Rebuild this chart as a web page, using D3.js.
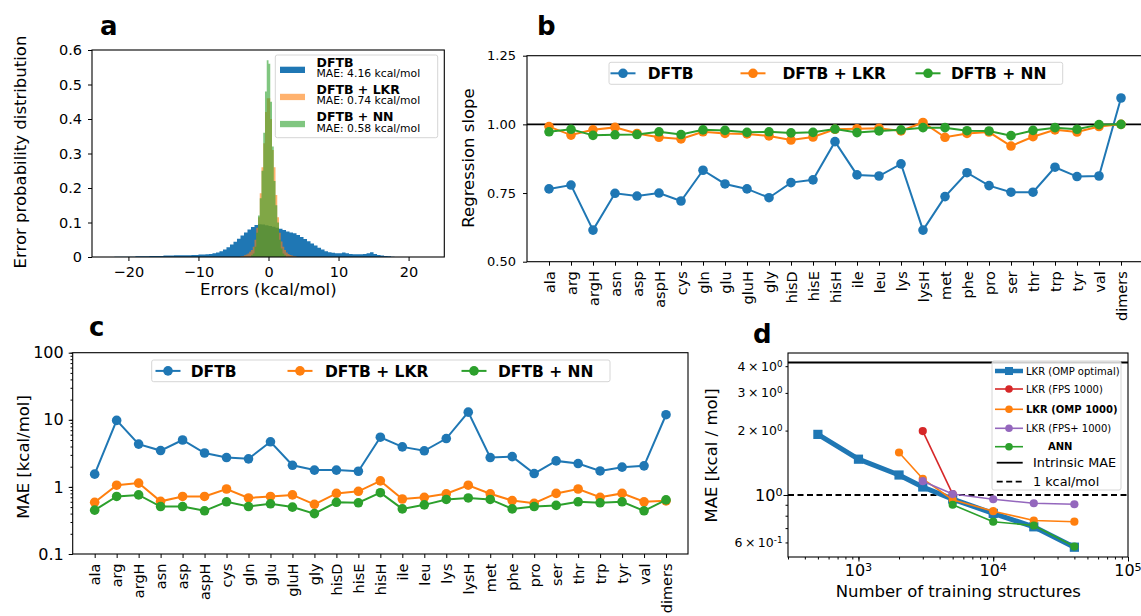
<!DOCTYPE html>
<meta charset="utf-8">
<style type="text/css">
body {
  margin: 0;
  background: #fff;
}

svg,
.axis {
  font-family: "DejaVu Sans", sans-serif;
}

.axis path,
.axis line {
  stroke: #000;
  stroke-width: 1px;
}

.axis text {
  fill: #000;
}

.letter {
  font-weight: bold;
  font-size: 26px;
}

.label {
  font-size: 16.5px;
}
</style>
<body></body>

<script src="https://d3js.org/d3.v7.min.js"></script>
<script>
// ---- panel a : error histograms (bin start, bin width, heights)
var dftbStart = -22, dftbWidth = 0.5;
var dftbHist = [
  0.001,0.001,0.001,0.001,0.001,0.001,0.002,0.002,0.002,0.002,0.003,0.003,0.003,0.003,
  0.004,0.004,0.004,0.005,0.005,0.005,0.005,0.005,0.006,0.006,
  0.007,0.007,0.008,0.009, 0.011,0.013,0.017,0.022, 0.028,0.036,0.044,0.053,
  0.062,0.071,0.080,0.087, 0.093,0.095,0.094,0.092, 0.090,0.088,0.085,0.082,
  0.078,0.074,0.071,0.069, 0.064,0.058,0.052,0.046, 0.039,0.033,0.027,0.022,
  0.017,0.014,0.012,0.011, 0.011,0.013,0.011,0.009, 0.008,0.008,0.008,0.009,
  0.011,0.014,0.009,0.006, 0.004,0.003,0.002,0.001
];
var lkrStart = -4, lkrWidth = 0.25;
var lkrHist = [
  0.002,0.003,0.005,0.007,0.010,0.015,0.020,0.030,0.050,0.085,0.115,0.185,0.260,0.330,0.420,0.460,
  0.460,0.400,0.310,0.260,0.180,0.115,0.070,0.045,0.030,0.020,0.013,0.009,0.006,0.004,0.003,0.002
];
var nnStart = -2.5, nnWidth = 0.25;
var nnHist = [
  0.005,0.010,0.030,0.070,0.120,0.170,0.250,0.360,0.480,0.570,
  0.560,0.450,0.320,0.220,0.150,0.100,0.050,0.025,0.010,0.005
];
var histNames = ["DFTB", "DFTB + LKR", "DFTB + NN"];
var histMAE = ["MAE: 4.16 kcal/mol", "MAE: 0.74 kcal/mol", "MAE: 0.58 kcal/mol"];
var errTicks = [-20, -10, 0, 10, 20];
var probTicks = [0, 0.1, 0.2, 0.3, 0.4, 0.5, 0.6];

// ---- panels b and c : per residue
var residues = ["ala","arg","argH","asn","asp","aspH","cys","gln","glu","gluH","gly","hisD","hisE",
  "hisH","ile","leu","lys","lysH","met","phe","pro","ser","thr","trp","tyr","val","dimers"];
var slopeDFTB = [0.765,0.779,0.615,0.749,0.739,0.750,0.721,0.833,0.783,0.765,0.733,0.788,0.798,
  0.937,0.816,0.812,0.856,0.615,0.737,0.824,0.777,0.753,0.753,0.844,0.810,0.812,1.096];
var slopeLKR = [0.992,0.961,0.980,0.989,0.967,0.953,0.947,0.973,0.967,0.965,0.958,0.943,0.954,
  0.982,0.984,0.986,0.976,1.007,0.953,0.967,0.972,0.921,0.955,0.980,0.972,0.992,1.000];
var slopeNN = [0.973,0.982,0.960,0.962,0.963,0.973,0.963,0.980,0.978,0.971,0.973,0.969,0.971,
  0.983,0.970,0.976,0.980,0.988,0.988,0.977,0.976,0.959,0.978,0.988,0.982,0.999,1.000];
var slopeTicks = [0.50, 0.75, 1.00, 1.25];

var maeDFTB = [1.55,9.8,4.34,3.48,5.0,3.2,2.74,2.62,4.7,2.1,1.78,1.78,1.71,
  5.5,3.95,3.45,5.26,13.0,2.74,2.83,1.58,2.44,2.23,1.73,1.97,2.06,11.9];
var maeLKR = [0.59,1.06,1.14,0.61,0.72,0.72,0.93,0.685,0.72,0.76,0.55,0.80,0.86,
  1.23,0.66,0.70,0.79,1.06,0.79,0.625,0.57,0.80,0.93,0.70,0.80,0.60,0.62];
var maeNN = [0.45,0.72,0.76,0.51,0.51,0.44,0.60,0.51,0.56,0.50,0.40,0.59,0.58,
  0.82,0.47,0.54,0.65,0.685,0.65,0.47,0.51,0.53,0.60,0.58,0.60,0.44,0.64];
var maeTicks = [0.1, 1, 10, 100];

// ---- panel d : learning curves
var ompOptimalN = [500,1000,2000,3000,5000,10000,20000,40000];
var ompOptimal  = [1.92,1.47,1.24,1.09,0.957,0.82,0.71,0.57];
var fpsN = [3000,5000];
var fps  = [1.99,1.01];
var omp1000N = [2000,3000,5000,10000,20000,40000];
var omp1000  = [1.58,1.19,0.95,0.84,0.76,0.75];
var fpsPlusN = [3000,5000,10000,20000,40000];
var fpsPlus  = [1.16,1.01,0.955,0.915,0.905];
var annN = [5000,10000,20000,40000];
var ann  = [0.90,0.75,0.72,0.574];
var intrinsicMAE = 4.16;
var oneKcal = 1;
var curveNames = ["LKR (OMP optimal)", "LKR (FPS 1000)", "LKR (OMP 1000)", "LKR (FPS+ 1000)", "ANN",
  "Intrinsic MAE", "1 kcal/mol"];
var nTicks = [1e3, 1e4, 1e5];
var maeDTicks = [4, 3, 2, 1, 0.6];

var blue = "#1f77b4", orange = "#ff7f0e", green = "#2ca02c", red = "#d62728", purple = "#9467bd";

var svg = d3.select("body")
  .append("svg")
    .attr("width", 1141)
    .attr("height", 616);

function frame(L, T, R, B) {
  svg.append("rect")
    .attr("x", L).attr("y", T)
    .attr("width", R - L).attr("height", B - T)
    .attr("fill", "none")
    .attr("stroke", "#000")
    .attr("stroke-width", 1.1);
}

function letter(t, x, y) {
  svg.append("text").attr("class", "letter").attr("x", x).attr("y", y).text(t);
}

function ylabel(t, x, y) {
  svg.append("text").attr("class", "label")
    .attr("transform", "translate(" + x + "," + y + ") rotate(-90)")
    .attr("text-anchor", "middle")
    .text(t);
}

function catAxis(x, B) {
  svg.append("g")
    .attr("class", "axis")
    .attr("transform", "translate(0," + B + ")")
    .style("font-size", "14.5px")
    .call(d3.axisBottom(x).tickSize(4).tickSizeOuter(0))
    .call(function(g) { g.select(".domain").remove(); })
    .selectAll("text")
      .attr("transform", "rotate(-90)")
      .attr("text-anchor", "end")
      .attr("x", -9.5)
      .attr("y", 0)
      .attr("dy", "0.35em");
}

function series(x, y, vals, color, r) {
  var pts = residues.map(function(d, i) { return [x(d), y(vals[i])]; });
  svg.append("path")
    .attr("d", d3.line()(pts))
    .attr("fill", "none")
    .attr("stroke", color)
    .attr("stroke-width", 2);
  svg.append("g").selectAll("circle")
    .data(pts)
    .enter().append("circle")
      .attr("cx", function(d) { return d[0]; })
      .attr("cy", function(d) { return d[1]; })
      .attr("r", r)
      .attr("fill", color);
}

function lineLegend(items, box, y) {
  svg.append("rect")
    .attr("x", box[0]).attr("y", box[1])
    .attr("width", box[2] - box[0]).attr("height", box[3] - box[1])
    .attr("rx", 2)
    .attr("fill", "#fff").attr("fill-opacity", 0.8)
    .attr("stroke", "#d6d6d6");
  items.forEach(function(it) {
    svg.append("line")
      .attr("x1", it.m - 12.5).attr("x2", it.m + 12.5)
      .attr("y1", y).attr("y2", y)
      .attr("stroke", it.c).attr("stroke-width", 2);
    svg.append("circle").attr("cx", it.m).attr("cy", y).attr("r", 4.8).attr("fill", it.c);
    svg.append("text")
      .attr("x", it.t).attr("y", y + 5.6)
      .style("font-weight", "bold").style("font-size", "15.5px")
      .text(it.name);
  });
}

// =================== panel a ===================
(function() {
  var L = 92, R = 444.3, T = 50, B = 257;
  var x = d3.scaleLinear().domain([-25.2, 25.1]).range([L, R]);
  var y = d3.scaleLinear().domain([0, 0.6]).range([B, T]);

  var area = d3.area()
    .curve(d3.curveStepAfter)
    .x(function(d) { return x(d[0]); })
    .y0(B)
    .y1(function(d) { return y(d[1]); });

  function hist(start, width, heights, color, alpha) {
    var pts = heights.map(function(h, i) { return [start + i * width, h]; });
    pts.push([start + heights.length * width, heights[heights.length - 1]]);
    svg.append("path")
      .attr("d", area(pts))
      .attr("fill", color)
      .attr("fill-opacity", alpha);
  }
  hist(dftbStart, dftbWidth, dftbHist, blue, 1);
  hist(lkrStart, lkrWidth, lkrHist, orange, 0.6);
  hist(nnStart, nnWidth, nnHist, green, 0.6);

  svg.append("g")
    .attr("class", "axis")
    .attr("transform", "translate(0," + B + ")")
    .style("font-size", "14.5px")
    .call(d3.axisBottom(x).tickValues(errTicks).tickSize(4).tickPadding(5.5).tickSizeOuter(0))
    .call(function(g) { g.select(".domain").remove(); });

  svg.append("g")
    .attr("class", "axis")
    .attr("transform", "translate(" + L + ",0)")
    .style("font-size", "14.5px")
    .call(d3.axisLeft(y).tickValues(probTicks).tickSize(4).tickPadding(6)
      .tickFormat(function(d) { return d === 0 ? "0" : d3.format(".1f")(d); }).tickSizeOuter(0))
    .call(function(g) { g.select(".domain").remove(); });

  frame(L, T, R, B);

  // legend
  svg.append("rect")
    .attr("x", 275.3).attr("y", 55)
    .attr("width", 162.4).attr("height", 82.7)
    .attr("rx", 2)
    .attr("fill", "#fff").attr("fill-opacity", 0.8)
    .attr("stroke", "#d6d6d6");
  var cols = [[blue, 1], [orange, 0.6], [green, 0.6]];
  histNames.forEach(function(n, i) {
    var yb = 66.5 + i * 27.1;
    svg.append("rect")
      .attr("x", 280).attr("y", yb + 0.2)
      .attr("width", 25).attr("height", 6.3)
      .attr("fill", cols[i][0]).attr("fill-opacity", cols[i][1]);
    svg.append("text")
      .attr("x", 316.5).attr("y", yb)
      .style("font-weight", "bold").style("font-size", "12.5px")
      .text(n);
    svg.append("text")
      .attr("x", 316.5).attr("y", yb + 10.8)
      .style("font-size", "10.8px")
      .text(histMAE[i]);
  });

  ylabel("Error probability distribution", 25.5, 152);
  svg.append("text").attr("class", "label")
    .attr("x", 268.3).attr("y", 294.5)
    .attr("text-anchor", "middle")
    .text("Errors (kcal/mol)");
  letter("a", 100, 35);
})();

// =================== panel b ===================
(function() {
  var L = 527, R = 1143, T = 55.7, B = 261.7;
  var x = d3.scalePoint().domain(residues).range([L, R]).padding(1);
  var y = d3.scaleLinear().domain([0.5, 1.25]).range([B, T]);

  svg.append("line")
    .attr("x1", L).attr("x2", R)
    .attr("y1", y(1)).attr("y2", y(1))
    .attr("stroke", "#000").attr("stroke-width", 1.6);

  series(x, y, slopeDFTB, blue, 4.8);
  series(x, y, slopeLKR, orange, 4.8);
  series(x, y, slopeNN, green, 4.8);

  catAxis(x, B);
  svg.append("g")
    .attr("class", "axis")
    .attr("transform", "translate(" + L + ",0)")
    .style("font-size", "13px")
    .call(d3.axisLeft(y).tickValues(slopeTicks).tickSize(4).tickPadding(7)
      .tickFormat(d3.format(".2f")).tickSizeOuter(0))
    .call(function(g) { g.select(".domain").remove(); });

  frame(L, T, R, B);

  lineLegend([
    { name: "DFTB", c: blue, m: 623, t: 647.7 },
    { name: "DFTB + LKR", c: orange, m: 753, t: 782.5 },
    { name: "DFTB + NN", c: green, m: 928, t: 951 }
  ], [609, 62.3, 1062.7, 84.3], 73.3);

  ylabel("Regression slope", 474.3, 158);
  letter("b", 537, 34.5);
})();

// =================== panel c ===================
(function() {
  var L = 72.7, R = 688, T = 352.7, B = 554;
  var x = d3.scalePoint().domain(residues).range([L, R]).padding(1);
  var y = d3.scaleLog().domain([0.1, 100]).range([B, T]);

  series(x, y, maeDFTB, blue, 4.8);
  series(x, y, maeLKR, orange, 4.8);
  series(x, y, maeNN, green, 4.8);

  catAxis(x, B);
  svg.append("g")
    .attr("class", "axis")
    .attr("transform", "translate(" + L + ",0)")
    .call(d3.axisLeft(y).tickValues(y.ticks()).tickSize(2.2).tickFormat("").tickSizeOuter(0))
    .call(function(g) { g.select(".domain").remove(); });
  svg.append("g")
    .attr("class", "axis")
    .attr("transform", "translate(" + L + ",0)")
    .style("font-size", "16px")
    .call(d3.axisLeft(y).tickValues(maeTicks).tickSize(4).tickPadding(5)
      .tickFormat(function(d) { return String(d); }).tickSizeOuter(0))
    .call(function(g) { g.select(".domain").remove(); });

  frame(L, T, R, B);

  lineLegend([
    { name: "DFTB", c: blue, m: 168, t: 190.7 },
    { name: "DFTB + LKR", c: orange, m: 300, t: 325 },
    { name: "DFTB + NN", c: green, m: 474, t: 498 }
  ], [151.7, 360, 610, 381.7], 370.9);

  ylabel("MAE [kcal/mol]", 28.5, 457);
  letter("c", 89, 336);
})();

// =================== panel d ===================
(function() {
  var L = 788, R = 1128, T = 353, B = 557;
  var x = d3.scaleLog().domain([300, 1e5]).range([L, R]);
  var y = d3.scaleLog().domain([0.513, 4.61]).range([B, T]);

  svg.append("line")
    .attr("x1", L).attr("x2", R)
    .attr("y1", y(intrinsicMAE)).attr("y2", y(intrinsicMAE))
    .attr("stroke", "#000").attr("stroke-width", 2);
  svg.append("line")
    .attr("x1", L).attr("x2", R)
    .attr("y1", y(oneKcal)).attr("y2", y(oneKcal))
    .attr("stroke", "#000").attr("stroke-width", 1.8)
    .attr("stroke-dasharray", "6,3.5");

  function curve(ns, vals, color, w, r) {
    var pts = ns.map(function(n, i) { return [x(n), y(vals[i])]; });
    svg.append("path")
      .attr("d", d3.line()(pts))
      .attr("fill", "none")
      .attr("stroke", color)
      .attr("stroke-width", w)
      .attr("stroke-linejoin", "round");
    var g = svg.append("g");
    if (r < 0) {
      g.selectAll("rect").data(pts).enter().append("rect")
        .attr("x", function(d) { return d[0] + r; })
        .attr("y", function(d) { return d[1] + r; })
        .attr("width", -2 * r).attr("height", -2 * r)
        .attr("fill", color);
    } else {
      g.selectAll("circle").data(pts).enter().append("circle")
        .attr("cx", function(d) { return d[0]; })
        .attr("cy", function(d) { return d[1]; })
        .attr("r", r)
        .attr("fill", color);
    }
  }
  curve(ompOptimalN, ompOptimal, blue, 5, -4.6);
  curve(fpsN, fps, red, 1.6, 4.1);
  curve(omp1000N, omp1000, orange, 1.6, 4.1);
  curve(fpsPlusN, fpsPlus, purple, 1.6, 4.1);
  curve(annN, ann, green, 1.6, 4.1);

  // minor ticks
  svg.append("g")
    .attr("class", "axis")
    .attr("transform", "translate(0," + B + ")")
    .call(d3.axisBottom(x).tickValues(x.ticks()).tickSize(2.5).tickFormat("").tickSizeOuter(0))
    .call(function(g) { g.select(".domain").remove(); });
  svg.append("g")
    .attr("class", "axis")
    .attr("transform", "translate(0," + B + ")")
    .call(d3.axisBottom(x).tickValues(nTicks).tickSize(4.5).tickFormat("").tickSizeOuter(0))
    .call(function(g) { g.select(".domain").remove(); });
  svg.append("g")
    .attr("class", "axis")
    .attr("transform", "translate(" + L + ",0)")
    .call(d3.axisLeft(y).tickValues(y.ticks()).tickSize(2.5).tickFormat("").tickSizeOuter(0))
    .call(function(g) { g.select(".domain").remove(); });
  svg.append("g")
    .attr("class", "axis")
    .attr("transform", "translate(" + L + ",0)")
    .call(d3.axisLeft(y).tickValues([1]).tickSize(4.5).tickFormat("").tickSizeOuter(0))
    .call(function(g) { g.select(".domain").remove(); });

  function sciLabel(t, v) {
    var e = Math.floor(Math.log10(v) + 1e-9);
    var m = Math.round(v / Math.pow(10, e));
    t.append("tspan").text((m === 1 ? "" : m + "\u2009\u00d7\u2009") + "10");
    t.append("tspan").attr("dy", "-0.45em").style("font-size", "70%").text(e);
  }

  nTicks.forEach(function(n) {
    var t = svg.append("text")
      .attr("x", x(n)).attr("y", 576)
      .attr("text-anchor", "middle")
      .style("font-size", "16px");
    sciLabel(t, n);
  });
  maeDTicks.forEach(function(v) {
    var big = v === 1;
    var t = svg.append("text")
      .attr("x", 782.5).attr("y", y(v) + (big ? 5.6 : 4.5))
      .attr("text-anchor", "end")
      .style("font-size", big ? "16px" : "12.5px");
    sciLabel(t, v);
  });

  frame(L, T, R, B);

  // legend
  svg.append("rect")
    .attr("x", 992).attr("y", 361)
    .attr("width", 129).attr("height", 129)
    .attr("rx", 2)
    .attr("fill", "#fff").attr("fill-opacity", 0.8)
    .attr("stroke", "#d6d6d6");
  var ly = [371, 389, 409.3, 428.3, 446.7, 462.7, 481.7];
  var lc = [blue, red, orange, purple, green];
  curveNames.forEach(function(n, i) {
    if (i < 5) {
      svg.append("line")
        .attr("x1", 995).attr("x2", 1023)
        .attr("y1", ly[i]).attr("y2", ly[i])
        .attr("stroke", lc[i]).attr("stroke-width", i === 0 ? 4.5 : 1.6);
      if (i === 0) {
        svg.append("rect").attr("x", 1009 - 4).attr("y", ly[i] - 4)
          .attr("width", 8).attr("height", 8).attr("fill", blue);
      } else {
        svg.append("circle").attr("cx", 1009).attr("cy", ly[i]).attr("r", 3.8).attr("fill", lc[i]);
      }
      svg.append("text")
        .attr("x", i === 4 ? 1048 : 1026).attr("y", ly[i] + 3.6)
        .style("font-size", "10px")
        .style("font-weight", (i === 2 || i === 4) ? "bold" : "normal")
        .text(n);
    } else {
      svg.append("line")
        .attr("x1", 996.7).attr("x2", 1022.7)
        .attr("y1", ly[i]).attr("y2", ly[i])
        .attr("stroke", "#000").attr("stroke-width", 1.8)
        .attr("stroke-dasharray", i === 6 ? "6,3.5" : null);
      svg.append("text")
        .attr("x", 1033).attr("y", ly[i] + 4.6)
        .style("font-size", "12.8px")
        .text(n);
    }
  });

  ylabel("MAE [kcal / mol]", 716.5, 455.5);
  svg.append("text").attr("class", "label")
    .attr("x", 958.3).attr("y", 597)
    .attr("text-anchor", "middle")
    .text("Number of training structures");
  letter("d", 753, 343);
})();
</script>
